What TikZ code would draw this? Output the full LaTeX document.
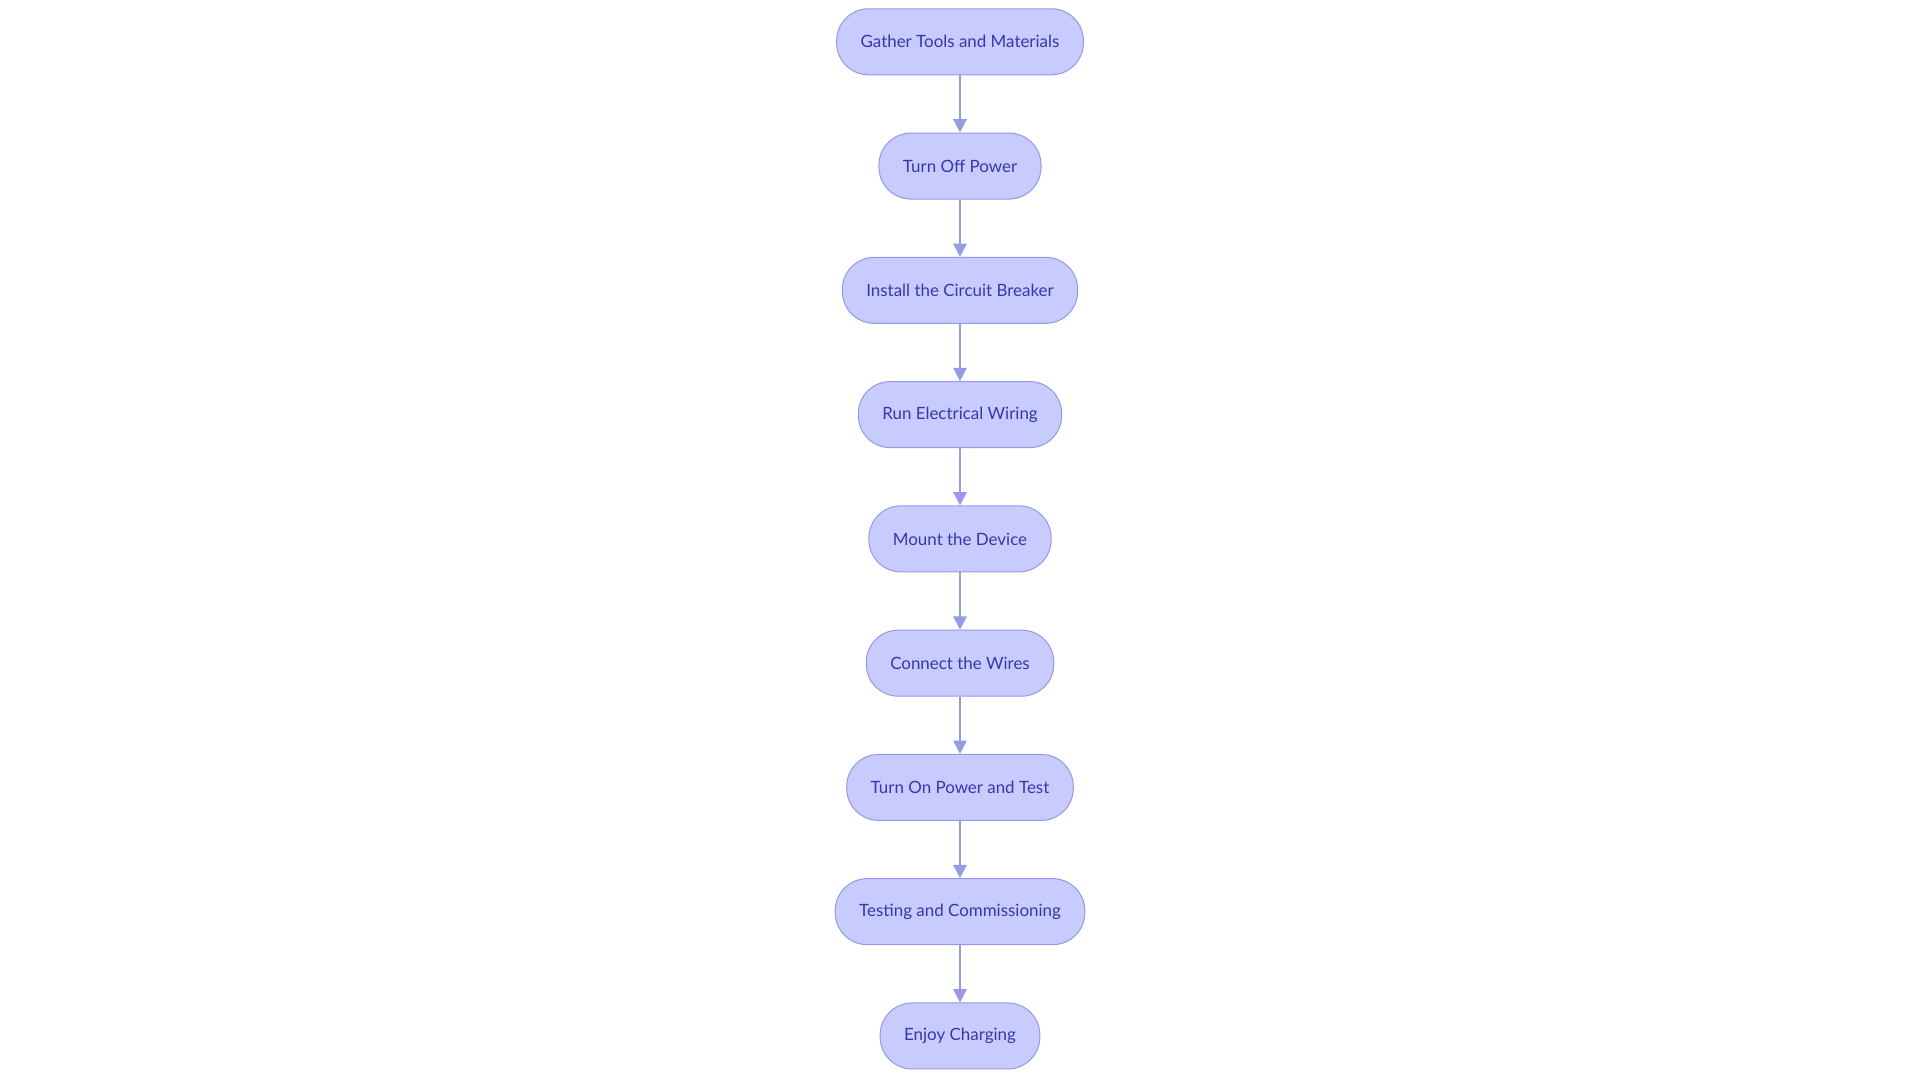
\documentclass[tikz,border=0pt]{standalone}
\usepackage{fontspec}
\setmainfont{Lato}
\usetikzlibrary{shapes.geometric, arrows.meta}
\definecolor{stepFill}{RGB}{200,203,254}
\definecolor{stepBorder}{RGB}{148,152,232}
\definecolor{stepText}{RGB}{55,55,172}
\definecolor{arrowColor}{RGB}{150,155,232}
\tikzstyle{stepBox} = [rectangle, rounded corners=24pt, minimum height=49.5pt, inner xsep=18pt, text centered, draw=stepBorder, line width=0.75pt, fill=stepFill, text=stepText, font=\fontsize{12.7}{15}\selectfont]
\tikzstyle{arrow} = [line width=1.5pt, draw=arrowColor, -{Triangle[length=10pt,width=10pt]}]

\begin{document}
\begin{tikzpicture}[x=0.75pt, y=-0.75pt, node distance=93.2pt]

\useasboundingbox (0,0) rectangle (1920,1083);
\node (gather) [stepBox] at (960,41.8) {Gather Tools and Materials};
\node (powerOff) [stepBox, below of=gather] {Turn Off Power};
\node (breaker) [stepBox, below of=powerOff] {Install the Circuit Breaker};
\node (wiring) [stepBox, below of=breaker] {Run Electrical Wiring};
\node (mount) [stepBox, below of=wiring] {Mount the Device};
\node (connect) [stepBox, below of=mount] {Connect the Wires};
\node (powerOn) [stepBox, below of=connect] {Turn On Power and Test};
\node (testing) [stepBox, below of=powerOn] {Testing and Commissioning};
\node (enjoy) [stepBox, below of=testing] {Enjoy Charging};

\draw [arrow] (gather) -- (powerOff);
\draw [arrow] (powerOff) -- (breaker);
\draw [arrow] (breaker) -- (wiring);
\draw [arrow] (wiring) -- (mount);
\draw [arrow] (mount) -- (connect);
\draw [arrow] (connect) -- (powerOn);
\draw [arrow] (powerOn) -- (testing);
\draw [arrow] (testing) -- (enjoy);
\end{tikzpicture}
\end{document}
